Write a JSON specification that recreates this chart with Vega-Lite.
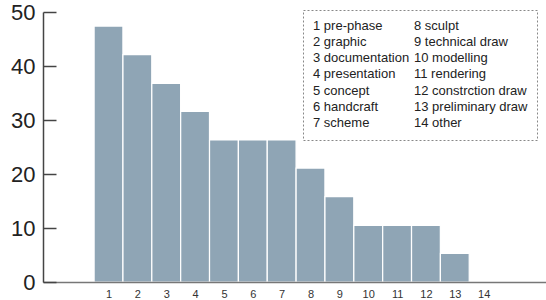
{
  "$schema": "https://vega.github.io/schema/vega-lite/v6.json",
  "width": 503,
  "height": 270,
  "autosize": "none",
  "padding": {"left": 43, "top": 12, "right": 0, "bottom": 18},
  "background": "white",
  "config": {
    "view": {"stroke": null},
    "font": "Liberation Sans",
    "axis": {"grid": false, "domainColor": "#555", "domainWidth": 1.5},
    "legend": {"strokeDash": [2, 2], "strokeColor": "#888"}
  },
  "data": {
    "values": [
      {"n": 1, "label": "1 pre-phase", "v": 47.4},
      {"n": 2, "label": "2 graphic", "v": 42.1},
      {"n": 3, "label": "3 documentation", "v": 36.8},
      {"n": 4, "label": "4 presentation", "v": 31.6},
      {"n": 5, "label": "5 concept", "v": 26.3},
      {"n": 6, "label": "6 handcraft", "v": 26.3},
      {"n": 7, "label": "7 scheme", "v": 26.3},
      {"n": 8, "label": "8 sculpt", "v": 21.1},
      {"n": 9, "label": "9 technical draw", "v": 15.8},
      {"n": 10, "label": "10 modelling", "v": 10.5},
      {"n": 11, "label": "11 rendering", "v": 10.5},
      {"n": 12, "label": "12 constrction draw", "v": 10.5},
      {"n": 13, "label": "13 preliminary draw", "v": 5.3},
      {"n": 14, "label": "14 other", "v": 0}
    ]
  },
  "mark": {"type": "bar", "size": 28.8, "stroke": "white", "strokeWidth": 1.2},
  "encoding": {
    "x": {
      "field": "n", "type": "quantitative",
      "scale": {"domain": [-1.27, 16.16], "nice": false, "zero": false, "padding": 0},
      "axis": {"title": null, "values": [1,2,3,4,5,6,7,8,9,10,11,12,13,14], "ticks": false, "labelFontSize": 11, "labelColor": "#333", "labelPadding": 6, "domainColor": "#777", "zindex": 1}
    },
    "y": {
      "field": "v", "type": "quantitative",
      "scale": {"domain": [0, 50], "nice": false},
      "axis": {"title": null, "values": [0,10,20,30,40,50], "tickSize": -13, "tickColor": "#444", "tickWidth": 1.5, "labelFontSize": 22, "labelColor": "#222", "labelPadding": 21, "domainColor": "#444", "zindex": 1}
    },
    "color": {
      "field": "label", "type": "nominal",
      "scale": {
        "domain": ["1 pre-phase", "8 sculpt", "2 graphic", "9 technical draw", "3 documentation", "10 modelling", "4 presentation", "11 rendering", "5 concept", "12 constrction draw", "6 handcraft", "13 preliminary draw", "7 scheme", "14 other"],
        "range": ["#8fa5b5"]
      },
      "legend": {
        "title": null,
        "orient": "none",
        "legendX": 260,
        "legendY": -2,
        "columns": 2,
        "direction": "horizontal",
        "symbolSize": 1,
        "symbolStrokeWidth": 0,
        "symbolOpacity": 0,
        "labelOffset": -12,
        "labelFontSize": 13,
        "labelColor": "#222",
        "labelLimit": 300,
        "columnPadding": 3,
        "rowPadding": 2.3,
        "padding": 9,
        "fillColor": "white"
      }
    }
  }
}
